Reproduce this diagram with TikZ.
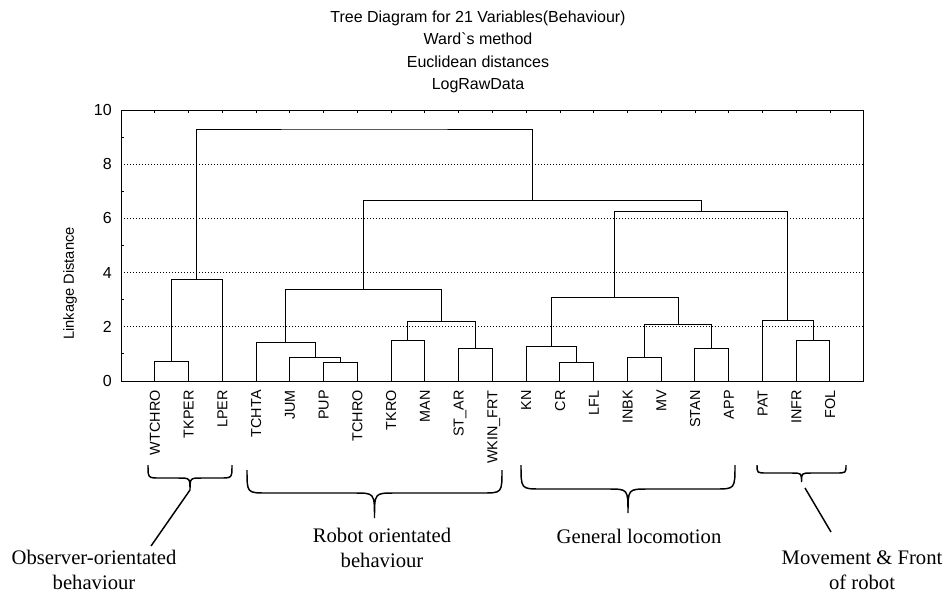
\documentclass[tikz,border=0pt]{standalone}
\usepackage{fontspec}
\setmainfont{Liberation Serif}
\newfontfamily\chartfont{Liberation Sans}
\newcommand{\grpbrace}[7]{%
  \draw[brace line] (#1,#3) .. controls (#1,#4) .. ({#1+#6},#4)
    -- ({(#1+#2)/2-#6},#4) .. controls ({(#1+#2)/2},#4) .. ({(#1+#2)/2},#5)
    .. controls ({(#1+#2)/2},#4) .. ({(#1+#2)/2+#6},#4)
    -- ({#2-#6},#4) .. controls (#2,#4) .. (#2,#3);
  \coordinate (#7) at ({(#1+#2)/2},#5);}
\tikzset{
  link/.style={line width=0.75pt},
  grid line/.style={line width=0.6pt, dash pattern=on 0.75pt off 1.5pt},
  brace line/.style={line width=1.1pt},
  leaf label/.style={rotate=90, anchor=east, inner xsep=6.75pt, inner ysep=0pt,
    text height=7.7pt, text depth=0pt, font=\chartfont\fontsize{10.8}{13}\selectfont},
  tick label/.style={anchor=east, inner xsep=6.75pt, inner ysep=0pt,
    font=\chartfont\fontsize{12}{14}\selectfont},
  group label/.style={align=center, inner sep=0pt, font=\fontsize{15.5}{18.5}\selectfont}
}
\begin{document}
\begin{tikzpicture}[x=0.75pt, y=-0.75pt]
  \useasboundingbox (0,0) rectangle (949,594);
  % titles
  \node[align=center, inner sep=0pt, font=\chartfont\fontsize{12}{16.9}\selectfont]
    (title) at (478,52) {Tree Diagram for 21 Variables(Behaviour)\\Ward`s method\\Euclidean distances\\LogRawData};
  \node[rotate=90, inner sep=0pt, font=\chartfont\fontsize{11}{13}\selectfont]
    (ylabel) at (70,283.5) {Linkage Distance};
  \begin{scope}[shift={(121,381)}, xscale=33.77, yscale=-27.1]
    % frame, grid and ticks
    \draw[grid line] (0,2) -- (22,2) (0,4) -- (22,4) (0,6) -- (22,6) (0,8) -- (22,8);
    \draw[link] (0,0) rectangle (22,10);
    \draw[link] (0,1) -- (0.09,1) (0,3) -- (0.09,3) (0,5) -- (0.09,5) (0,7) -- (0.09,7) (0,9) -- (0.09,9);
    \draw[link] (1,10) -- (1,9.89) (2,10) -- (2,9.89) (3,10) -- (3,9.89) (4,10) -- (4,9.89)
      (5,10) -- (5,9.89) (6,10) -- (6,9.89) (7,10) -- (7,9.89) (8,10) -- (8,9.89)
      (9,10) -- (9,9.89) (10,10) -- (10,9.89) (11,10) -- (11,9.89) (12,10) -- (12,9.89)
      (13,10) -- (13,9.89) (14,10) -- (14,9.89) (15,10) -- (15,9.89) (16,10) -- (16,9.89)
      (17,10) -- (17,9.89) (18,10) -- (18,9.89) (19,10) -- (19,9.89) (20,10) -- (20,9.89)
      (21,10) -- (21,9.89);
    \node[tick label] (y0) at (0,0) {0};
    \node[tick label] (y2) at (0,2) {2};
    \node[tick label] (y4) at (0,4) {4};
    \node[tick label] (y6) at (0,6) {6};
    \node[tick label] (y8) at (0,8) {8};
    \node[tick label] (y10) at (0,10) {10};
    % leaves
    \coordinate (l1) at (1,0);   \coordinate (l2) at (2,0);   \coordinate (l3) at (3,0);
    \coordinate (l4) at (4,0);   \coordinate (l5) at (5,0);   \coordinate (l6) at (6,0);
    \coordinate (l7) at (7,0);   \coordinate (l8) at (8,0);   \coordinate (l9) at (9,0);
    \coordinate (l10) at (10,0); \coordinate (l11) at (11,0); \coordinate (l12) at (12,0);
    \coordinate (l13) at (13,0); \coordinate (l14) at (14,0); \coordinate (l15) at (15,0);
    \coordinate (l16) at (16,0); \coordinate (l17) at (17,0); \coordinate (l18) at (18,0);
    \coordinate (l19) at (19,0); \coordinate (l20) at (20,0); \coordinate (l21) at (21,0);
    \node[leaf label] (wtchro) at (l1) {WTCHRO};
    \node[leaf label] (tkper) at (l2) {TKPER};
    \node[leaf label] (lper) at (l3) {LPER};
    \node[leaf label] (tchta) at (l4) {TCHTA};
    \node[leaf label] (jum) at (l5) {JUM};
    \node[leaf label] (pup) at (l6) {PUP};
    \node[leaf label] (tchro) at (l7) {TCHRO};
    \node[leaf label] (tkro) at (l8) {TKRO};
    \node[leaf label] (man) at (l9) {MAN};
    \node[leaf label] (star) at (l10) {ST\_AR};
    \node[leaf label] (wkin) at (l11) {WKIN\_FRT};
    \node[leaf label] (kn) at (l12) {KN};
    \node[leaf label] (cr) at (l13) {CR};
    \node[leaf label] (lfl) at (l14) {LFL};
    \node[leaf label] (inbk) at (l15) {INBK};
    \node[leaf label] (mv) at (l16) {MV};
    \node[leaf label] (stan) at (l17) {STAN};
    \node[leaf label] (app) at (l18) {APP};
    \node[leaf label] (pat) at (l19) {PAT};
    \node[leaf label] (infr) at (l20) {INFR};
    \node[leaf label] (fol) at (l21) {FOL};
    % clusters
    \coordinate (c1) at (1.5,0.71);
    \coordinate (c2) at (2.25,3.73);
    \coordinate (c3) at (6.5,0.68);
    \coordinate (c4) at (5.75,0.87);
    \coordinate (c5) at (4.875,1.43);
    \coordinate (c6) at (8.5,1.48);
    \coordinate (c7) at (10.5,1.21);
    \coordinate (c8) at (9.5,2.21);
    \coordinate (c9) at (7.1875,3.38);
    \coordinate (c10) at (13.5,0.68);
    \coordinate (c11) at (12.75,1.27);
    \coordinate (c12) at (15.5,0.87);
    \coordinate (c13) at (17.5,1.21);
    \coordinate (c14) at (16.5,2.07);
    \coordinate (c15) at (14.625,3.09);
    \coordinate (c16) at (20.5,1.48);
    \coordinate (c17) at (19.75,2.25);
    \coordinate (c18) at (17.1875,6.25);
    \coordinate (c19) at (12.1875,6.65);
    \coordinate (c20) at (7.21875,9.30);
    \begin{scope}[link]
      \draw (l1) |- (c1) -| (l2);
      \draw (c1) |- (c2) -| (l3);
      \draw (l6) |- (c3) -| (l7);
      \draw (l5) |- (c4) -| (c3);
      \draw (l4) |- (c5) -| (c4);
      \draw (l8) |- (c6) -| (l9);
      \draw (l10) |- (c7) -| (l11);
      \draw (c6) |- (c8) -| (c7);
      \draw (c5) |- (c9) -| (c8);
      \draw (l13) |- (c10) -| (l14);
      \draw (l12) |- (c11) -| (c10);
      \draw (l15) |- (c12) -| (l16);
      \draw (l17) |- (c13) -| (l18);
      \draw (c12) |- (c14) -| (c13);
      \draw (c11) |- (c15) -| (c14);
      \draw (l20) |- (c16) -| (l21);
      \draw (l19) |- (c17) -| (c16);
      \draw (c15) |- (c18) -| (c17);
      \draw (c9) |- (c19) -| (c18);
      \draw (c2) |- (c20) -| (c19);
    \end{scope}
  \end{scope}
  % groups
  \grpbrace{148}{232}{465}{478}{490}{12}{obstip}
  \grpbrace{247}{502}{470}{493}{518}{20}{robottip}
  \grpbrace{521}{735}{465}{489}{513}{20}{locotip}
  \grpbrace{757}{846}{465}{473}{482}{10}{movetip}
  \node[group label] (obs) at (94,570) {Observer-orientated\\behaviour};
  \node[group label] (robot) at (382,548) {Robot orientated\\behaviour};
  \node[group label] (loco) at (639,536) {General locomotion};
  \node[group label] (move) at (862,570) {Movement \& Front\\of robot};
  \coordinate (obsfoot) at (151,546);
  \coordinate (movetop) at (805,488);
  \coordinate (movefoot) at (831,532);
  \draw[brace line] (obstip) -- (obsfoot);
  \draw[brace line] (movetop) -- (movefoot);
\end{tikzpicture}
\end{document}
